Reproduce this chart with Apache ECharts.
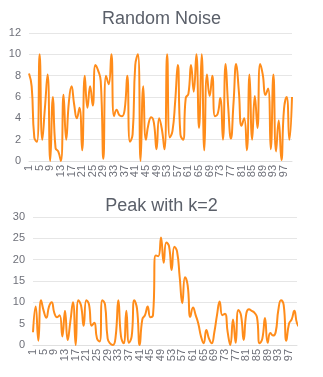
<!DOCTYPE html>
<html>
<head>
<meta charset="utf-8">
<script src="https://cdn.jsdelivr.net/npm/echarts@6/dist/echarts.min.js"></script>
<style>
  html, body { margin: 0; padding: 0; background: #fff; }
  #chart { width: 323px; height: 377px; }
</style>
</head>
<body>
<div id="chart"></div>
<script>
// x-axis categories 1..100
var categories = [];
for (var k = 1; k <= 100; k++) categories.push(String(k));

// first panel: random noise samples
var noiseValues = [
  8.2, 7.0, 2.2, 1.8, 10.0, 2.0, 5.0, 8.1, 0.0, 6.0,
  1.2, 0.9, 0.0, 6.2, 2.0, 5.5, 7.0, 5.3, 4.0, 5.0,
  1.0, 8.0, 5.0, 7.0, 5.2, 9.0, 8.5, 7.5, 0.2, 8.0,
  7.2, 10.0, 4.2, 4.8, 4.3, 4.2, 4.8, 8.0, 1.8, 2.5,
  9.0, 10.0, 0.0, 7.0, 2.0, 3.5, 4.1, 3.6, 1.1, 4.0,
  3.0, 1.1, 10.0, 2.2, 2.8, 5.5, 9.0, 2.5, 2.0, 5.9,
  6.3, 9.0, 6.5, 10.0, 3.1, 10.0, 1.0, 8.1, 6.1, 8.0,
  4.2, 4.4, 5.9, 2.0, 9.1, 5.0, 2.1, 5.5, 9.1, 6.5,
  3.3, 4.0, 1.0, 8.1, 2.0, 6.1, 3.1, 9.1, 8.1, 6.2,
  6.8, 1.1, 8.1, 0.9, 3.8, 0.1, 4.9, 6.0, 2.0, 6.0
];

// second panel: noise with a peak in the middle
var peakValues = [
  3.0, 9.0, 1.0, 10.5, 8.0, 6.4, 9.0, 10.0, 7.5, 6.5,
  7.0, 2.0, 8.0, 1.2, 5.5, 10.0, 0.0, 10.5, 9.3, 4.5,
  10.5, 9.5, 4.5, 5.2, 1.5, 0.8, 10.5, 9.5, 1.5, 0.3,
  0.0, 2.0, 10.5, 2.0, 0.4, 8.0, 0.5, 2.0, 10.5, 8.5,
  0.0, 6.0, 7.0, 9.0, 6.5, 7.0, 21.0, 20.8, 25.2, 19.3,
  24.0, 23.2, 17.6, 23.0, 22.0, 16.0, 9.8, 15.9, 14.0, 6.6,
  8.8, 7.0, 5.0, 2.0, 0.4, 3.5, 1.5, 0.4, 3.0, 7.0,
  10.2, 7.0, 7.3, 3.0, 0.0, 6.0, 0.5, 8.2, 7.0, 1.2,
  7.4, 8.4, 8.0, 7.6, 6.5, 0.4, 1.5, 6.3, 0.5, 2.8,
  2.2, 3.0, 8.2, 10.5, 9.4, 1.0, 5.0, 6.0, 8.0, 5.1,
  4.3, 6.3
];

var titles = ['Random Noise', 'Peak with k=2'];
var yMax = [12, 30];
var yStep = [2, 5];
var labelEvery = 4;

var FONT = "'Liberation Sans', Arial, sans-serif";
var LINE = '#ff8c1a';
var LABEL = '#6e7079';

function xAxis(gi) {
  return {
    type: 'category', gridIndex: gi, data: categories, boundaryGap: false,
    axisLine: { show: true, lineStyle: { color: '#e0e0e0' } },
    axisTick: { show: false },
    axisLabel: {
      rotate: 90, color: LABEL, fontSize: 11, fontFamily: FONT, margin: 4,
      interval: 0, hideOverlap: false,
      formatter: function (v, i) { return i % labelEvery === 0 ? v : ''; }
    }
  };
}
function yAxis(gi) {
  return {
    type: 'value', gridIndex: gi, min: 0, max: yMax[gi], interval: yStep[gi],
    axisLine: { show: false }, axisTick: { show: false },
    axisLabel: { color: LABEL, fontSize: 11, fontFamily: FONT, margin: 8 },
    splitLine: { lineStyle: { color: '#e6e6e6' } }
  };
}

var chart = echarts.init(document.getElementById('chart'), null, { renderer: 'canvas' });
chart.setOption({
  animation: false,
  backgroundColor: '#fff',
  title: [
    { text: titles[0], left: 'center', top: 5,
      textStyle: { fontSize: 18, fontWeight: 'normal', color: '#5a5f69', fontFamily: FONT } },
    { text: titles[1], left: 'center', top: 192,
      textStyle: { fontSize: 18, fontWeight: 'normal', color: '#5a5f69', fontFamily: FONT } }
  ],
  grid: [
    { left: 29, width: 263, top: 33, height: 128 },
    { left: 33, width: 264, top: 217, height: 128 }
  ],
  xAxis: [xAxis(0), xAxis(1)],
  yAxis: [yAxis(0), yAxis(1)],
  series: [
    { type: 'line', xAxisIndex: 0, yAxisIndex: 0, data: noiseValues, smooth: true,
      showSymbol: false, lineStyle: { color: LINE, width: 2 }, itemStyle: { color: LINE } },
    { type: 'line', xAxisIndex: 1, yAxisIndex: 1, data: peakValues, smooth: true, clip: false,
      showSymbol: false, lineStyle: { color: LINE, width: 2 }, itemStyle: { color: LINE } }
  ]
});
</script>
</body>
</html>
